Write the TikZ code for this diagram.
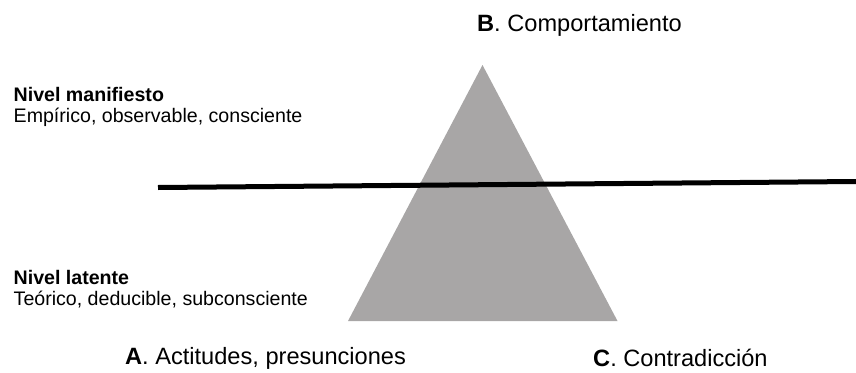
\documentclass[tikz,border=0pt]{standalone}
\usepackage{fontspec}
\setmainfont{Liberation Sans}
\definecolor{pyramidgray}{RGB}{168,166,166}
\tikzset{
	bigtext/.style={font=\fontsize{23.6}{28}\selectfont, anchor=base west, inner sep=0pt},
	smalltext/.style={font=\fontsize{19.6}{20.5}\selectfont, anchor=base west, inner sep=0pt, align=left},
}
\begin{document}
\begin{tikzpicture}[x=1pt,y=-1pt]
	\useasboundingbox (0,0) rectangle (856,372);
	%triangle-----------------------------------
		\coordinate (apex) at (482.5,65);
		\coordinate (baseleft) at (348,321);
		\coordinate (baseright) at (617.5,321);
		\fill[pyramidgray] (apex) -- (baseleft) -- (baseright) -- cycle; %pyramid
	%dividing line-----------------------------
		\coordinate (lineleft) at (158,187.5);
		\coordinate (lineright) at (856,181.5);
		\draw[line width=5pt] (lineleft) -- (lineright); %level line
	%labels-------------------------------------
		\node[bigtext] (labelB) at (477,31.5) {\textbf{B}. Comportamiento}; %vertex B
		\node[bigtext] (labelA) at (125,364) {\textbf{A}. Actitudes, presunciones}; %vertex A
		\node[bigtext] (labelC) at (593,366.5) {\textbf{C}. Contradicción}; %vertex C
		\node[smalltext] (manifest) at (13.5,122) {\textbf{Nivel manifiesto}\\Empírico, observable, consciente}; %upper level
		\node[smalltext] (latent) at (13.5,305) {\textbf{Nivel latente}\\Teórico, deducible, subconsciente}; %lower level
\end{tikzpicture}
\end{document}
